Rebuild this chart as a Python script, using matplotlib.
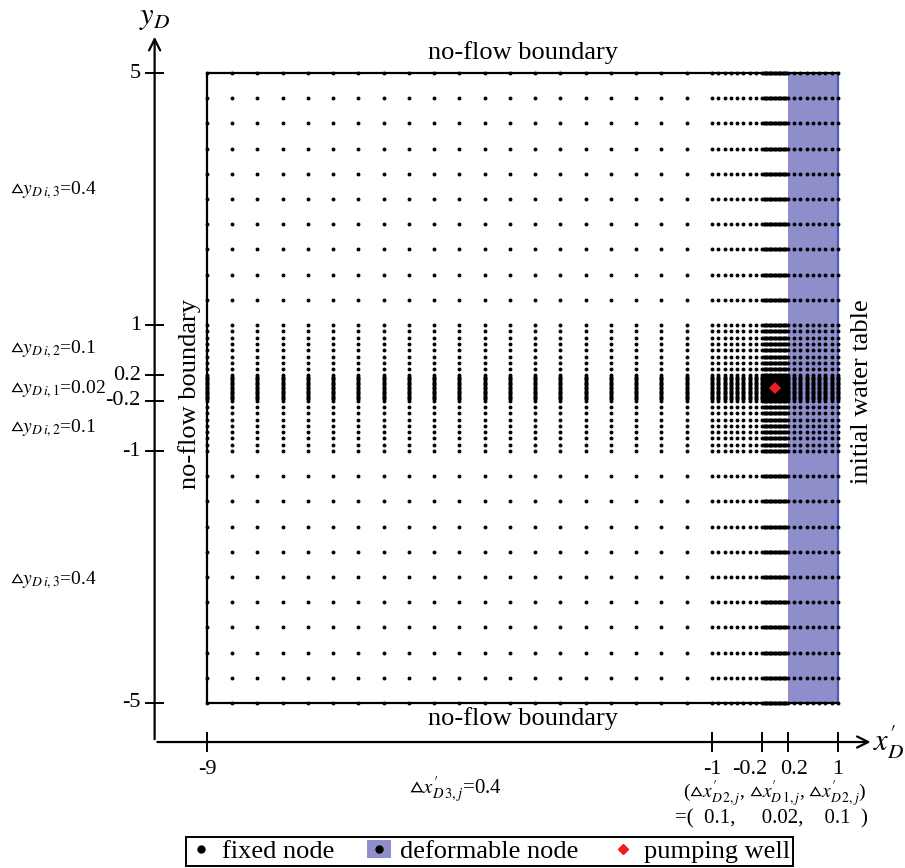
import numpy as np
import matplotlib
matplotlib.use("Agg")
import matplotlib.pyplot as plt
from matplotlib.lines import Line2D
from matplotlib.patches import Patch
from matplotlib.legend_handler import HandlerTuple

plt.rcParams['font.family'] = 'serif'
plt.rcParams['font.serif'] = ['Liberation Serif', 'DejaVu Serif']
plt.rcParams['mathtext.fontset'] = 'stix'

# grid definition: segment edges and node spacing in each segment
x_edges = [-9, -1, -0.2, 0.2, 1]
x_steps = [0.4, 0.1, 0.02, 0.1]
y_edges = [-5, -1, -0.2, 0.2, 1, 5]
y_steps = [0.4, 0.1, 0.02, 0.1, 0.4]

x_ticks = [-9, -1, -0.2, 0.2, 1]
x_ticklabels = ['-9', '-1', '-0.2', '0.2', '1']
y_ticks = [5, 1, 0.2, -0.2, -1, -5]
y_ticklabels = ['5', '1', '0.2', '-0.2', '-1', '-5']

deform_x = [0.2, 1]     # deformable zone
well = (0, 0)           # pumping well


def nodes(edges, steps):
    pts = []
    for a, b, d in zip(edges[:-1], edges[1:], steps):
        n = int(round((b - a) / d))
        pts.append(np.linspace(a, b, n + 1))
    return np.unique(np.round(np.concatenate(pts), 6))


xn = nodes(x_edges, x_steps)
yn = nodes(y_edges, y_steps)
X, Y = np.meshgrid(xn, yn)

fig = plt.figure(figsize=(9.05, 8.68), dpi=100)
ax = fig.add_axes([0, 0, 1, 1])
ax.set_xlim(-12.28, 2.06)
ax.set_ylim(-7.62, 6.16)
ax.axis('off')

blue = '#8e8ecb'
ax.fill_between(deform_x, y_edges[0], y_edges[-1], color=blue, lw=0, zorder=1)

# domain frame
x0, x1 = x_edges[0], x_edges[-1]
y0, y1 = y_edges[0], y_edges[-1]
ax.plot([x1, x0, x0, x1], [y1, y1, y0, y0], color='k', lw=1.6, zorder=2)
ax.plot([x1, x1], [y0, y1], color='#4a5cc0', lw=1.6, zorder=2)

ax.plot(X.ravel(), Y.ravel(), 'o', ms=2.8, mew=0, color='k', zorder=3)
ax.plot(*well, 'D', ms=6, color='#ee1c25', mew=0, zorder=4)

# coordinate axes with arrows
ax_x, ax_y = -9.83, -5.62
ax.annotate('', xy=(ax_x, 5.62), xytext=(ax_x, ax_y),
            arrowprops=dict(arrowstyle='->', lw=1.6, color='k', mutation_scale=20))
ax.annotate('', xy=(1.56, ax_y), xytext=(ax_x, ax_y),
            arrowprops=dict(arrowstyle='->', lw=1.6, color='k', mutation_scale=20))
for t, lab in zip(y_ticks, y_ticklabels):
    ax.plot([ax_x - 0.14, ax_x + 0.14], [t, t], color='k', lw=1.4)
    ax.text(ax_x - 0.22, t, lab, ha='right', va='center', fontsize=16)
x_label_shift = [0, 0, -0.2, 0.1, 0]
for t, lab, s in zip(x_ticks, x_ticklabels, x_label_shift):
    ax.plot([t, t], [ax_y - 0.15, ax_y + 0.15], color='k', lw=1.4)
    ax.text(t + s, ax_y - 0.28, lab, ha='center', va='top', fontsize=16)
ax.text(ax_x, 5.88, r'$y_D$', ha='center', va='center', fontsize=22)
ax.text(1.55, ax_y, r"$x^{\prime}_{D}$", ha='left', va='center', fontsize=22)

# boundary labels
ax.text(-4.0, 5.33, 'no-flow boundary', ha='center', va='center', fontsize=19)
ax.text(-4.0, -5.24, 'no-flow boundary', ha='center', va='center', fontsize=19)
ax.text(-9.27, -0.1, 'no-flow boundary', ha='center', va='center',
        rotation=90, fontsize=19)
ax.text(1.38, -0.06, 'initial water table', ha='center', va='center',
        rotation=90, fontsize=19)

# spacing annotations
lx = -12.12
fs = 14
ax.text(lx, 3.14, r'$\vartriangle y_{D\,i,3}$=0.4', ha='left', va='center', fontsize=fs)
ax.text(lx, 0.62, r'$\vartriangle y_{D\,i,2}$=0.1', ha='left', va='center', fontsize=fs)
ax.text(lx, -0.02, r'$\vartriangle y_{D\,i,1}$=0.02', ha='left', va='center', fontsize=fs)
ax.text(lx, -0.63, r'$\vartriangle y_{D\,i,2}$=0.1', ha='left', va='center', fontsize=fs)
ax.text(lx, -3.05, r'$\vartriangle y_{D\,i,3}$=0.4', ha='left', va='center', fontsize=fs)
ax.text(-5.07, -6.38, r"$\vartriangle x^{\prime}_{D\,3,j}$=0.4", ha='center', va='center',
        fontsize=15)
ax.text(0.0, -6.44,
        r"($\vartriangle x^{\prime}_{D\,2,j}$, $\vartriangle x^{\prime}_{D\,1,j}$, "
        r"$\vartriangle x^{\prime}_{D\,2,j}$)",
        ha='center', va='center', fontsize=fs)
ax.text(-0.05, -6.84, '=(  0.1,     0.02,    0.1  )', ha='center', va='center', fontsize=15)

handles = [
    Line2D([], [], marker='o', ls='none', color='k', ms=5),
    (Patch(facecolor=blue, edgecolor='none'),
     Line2D([], [], marker='o', ls='none', color='k', ms=5)),
    Line2D([], [], marker='D', ls='none', color='#ee1c25', ms=5),
]
leg = fig.legend(handles, ['fixed node', 'deformable node', 'pumping well'],
                 handler_map={tuple: HandlerTuple(ndivide=1, pad=0)},
                 loc='lower left', bbox_to_anchor=(186 / 905, 2 / 868),
                 ncol=3, fontsize=19, frameon=True, fancybox=False,
                 edgecolor='k', framealpha=1, handlelength=0.9,
                 handletextpad=0.35, columnspacing=1.25,
                 borderpad=0.1, borderaxespad=0)
leg.get_frame().set_linewidth(1.4)

fig.savefig('out.png', dpi=100)
